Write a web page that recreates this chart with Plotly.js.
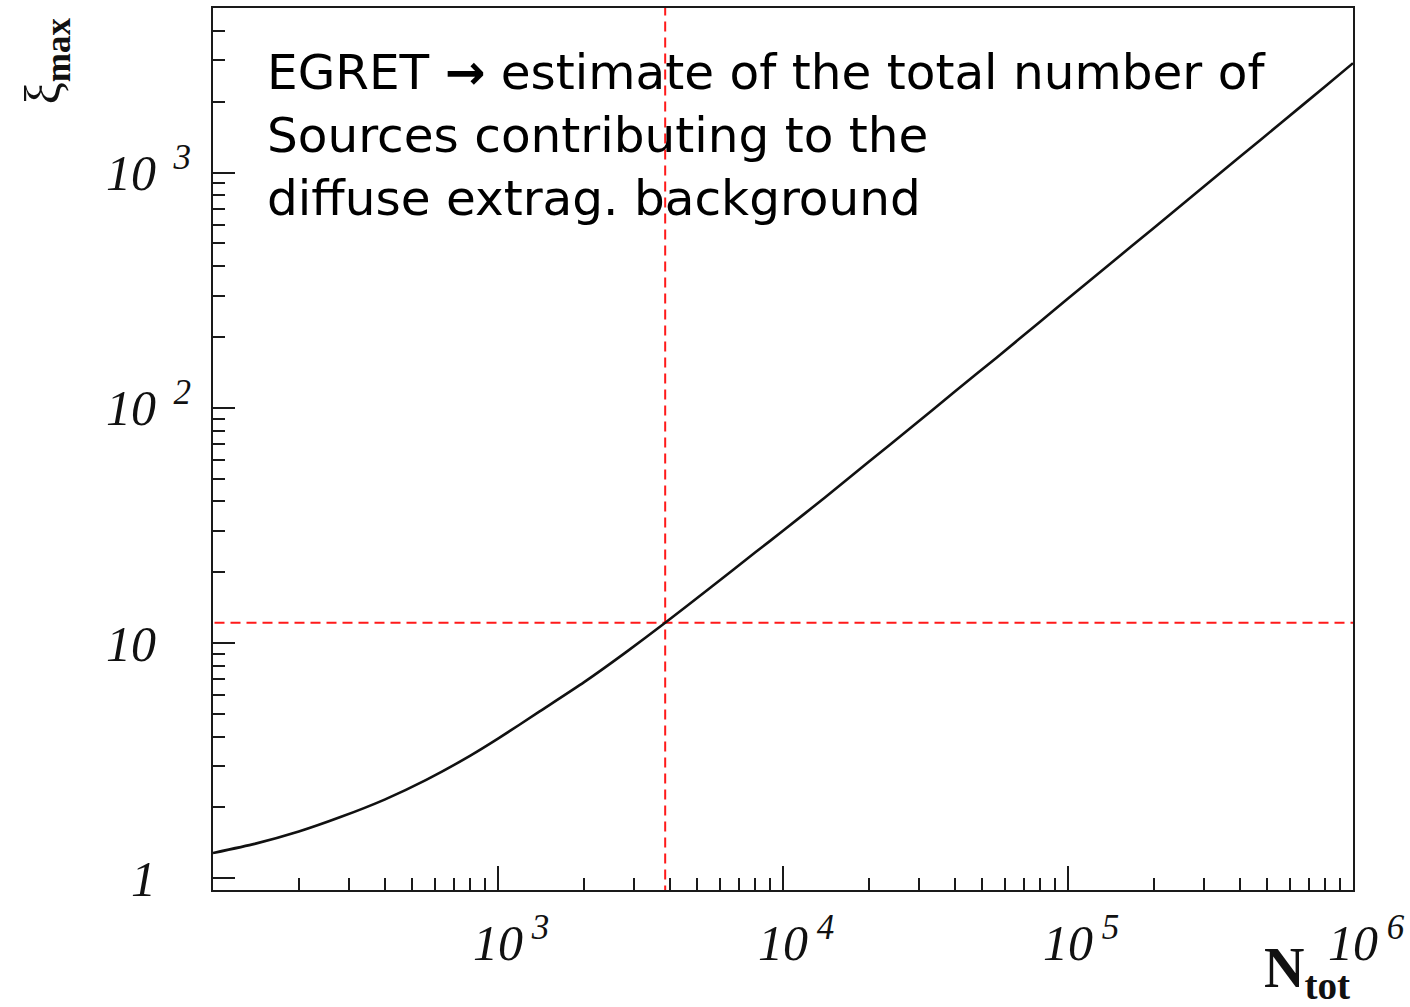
<!DOCTYPE html>
<html>
<head>
<meta charset="utf-8">
<script src="https://cdn.plot.ly/plotly-3.0.1.min.js"></script>
<style>
  html, body { margin: 0; padding: 0; background: #fff; }
  #chart { width: 1410px; height: 1007px; }
</style>
</head>
<body>
<div id="chart"></div>
<script>
// ---- data ----
const nTot = [100, 140, 200, 280, 400, 560, 800, 1000, 1400, 2000, 2800, 3860, 5500, 8000, 10000, 14000, 20000, 28000, 40000, 56000, 80000, 100000, 140000, 200000, 280000, 400000, 560000, 800000, 1000000];
const xiMax = [1.28, 1.40, 1.58, 1.82, 2.16, 2.62, 3.32, 3.92, 5.12, 6.8, 9.1, 12.2, 17, 24.3, 30, 41.5, 59, 82, 117, 163, 233, 292, 408, 582, 815, 1165, 1630, 2330, 2920];

// EGRET estimate marked by the dashed cross-hair
const crossN = 3860;
const crossXi = 12.2;

// axis ticks
const xTickVals = [1000, 10000, 100000, 1000000];
const xTickExp = ['3', '4', '5', '6'];
const yTickVals = [1, 10, 100, 1000];
const yTickBase = ['1', '10', '10', '10'];
const yTickExp = ['', '', '2', '3'];

const noteLines = ['EGRET <b>\u2192</b> estimate of the total number of', 'Sources contributing to the', 'diffuse extrag. background'];

// axis ranges (log10)
const xRangeLog = [2, 6];
const yRangeLog = [-0.05, 3.70];

// tick label text (exponent sits beside the base "10", base stays on the tick)
const NB = '\u00A0';
const xTickText = xTickExp.map(e => '<sup>' + NB + NB + NB + '</sup>10<sup>' + NB + e + '</sup>');
const yTickText = yTickBase.map((b, i) => b + '<sup>' + NB + NB + (yTickExp[i] ? yTickExp[i] : NB + NB) + '</sup>');

// minor ticks 2..9 per decade
function minorTicks(lo, hi) {
  const out = [];
  for (let e = Math.floor(lo); e <= Math.ceil(hi); e++) {
    for (let m = 2; m <= 9; m++) {
      const v = m * Math.pow(10, e);
      const l = Math.log10(v);
      if (l > lo && l < hi) out.push(v);
    }
  }
  return out;
}

const axisColor = '#1a1a1a';
const tickFont = { family: 'Liberation Serif, Times New Roman, serif', size: 50, color: '#111', style: 'italic' };

const yLo = Math.pow(10, yRangeLog[0] - 0.5);
const yHi = Math.pow(10, yRangeLog[1] + 0.5);
const xLo = Math.pow(10, xRangeLog[0] - 0.5);
const xHi = Math.pow(10, xRangeLog[1] + 0.5);

const dashStyle = { color: '#ff1a1a', width: 2, dash: '10px,6px' };

const traces = [
  {
    x: [xLo, xHi], y: [crossXi, crossXi],
    mode: 'lines', line: dashStyle,
    hoverinfo: 'skip', showlegend: false
  },
  {
    x: [crossN, crossN], y: [yLo, yHi],
    mode: 'lines', line: dashStyle,
    hoverinfo: 'skip', showlegend: false
  },
  {
    x: nTot, y: xiMax,
    mode: 'lines', line: { color: '#111', width: 2.6, shape: 'spline', smoothing: 0.5 },
    showlegend: false
  }
];

const layout = {
  width: 1410, height: 1007,
  margin: { l: 213, r: 57, t: 8, b: 117, pad: 0 },
  paper_bgcolor: '#fff', plot_bgcolor: '#fff',
  showlegend: false,
  xaxis: {
    type: 'log', range: xRangeLog,
    showline: true, linewidth: 2, linecolor: axisColor, mirror: true,
    showgrid: false, zeroline: false,
    tickmode: 'array', tickvals: xTickVals, ticktext: xTickText,
    ticks: 'inside', ticklen: 24, tickwidth: 2, tickcolor: axisColor,
    ticklabelstandoff: 8,
    tickfont: tickFont,
    minor: { tickmode: 'array', tickvals: minorTicks(xRangeLog[0], xRangeLog[1]), ticks: 'inside', ticklen: 12, tickwidth: 2, tickcolor: axisColor, showgrid: false }
  },
  yaxis: {
    type: 'log', range: yRangeLog,
    showline: true, linewidth: 2, linecolor: axisColor, mirror: true,
    showgrid: false, zeroline: false,
    tickmode: 'array', tickvals: yTickVals, ticktext: yTickText,
    ticks: 'inside', ticklen: 22, tickwidth: 2, tickcolor: axisColor,
    ticklabelstandoff: 10,
    tickfont: tickFont,
    minor: { tickmode: 'array', tickvals: minorTicks(yRangeLog[0], yRangeLog[1]), ticks: 'inside', ticklen: 12, tickwidth: 2, tickcolor: axisColor, showgrid: false }
  },
  annotations: [
    {
      xref: 'paper', yref: 'paper', x: 0.0456, y: 0.962,
      xanchor: 'left', yanchor: 'top', align: 'left', showarrow: false,
      text: noteLines.join('<br>'),
      font: { family: 'DejaVu Sans, sans-serif', size: 48.5, color: '#000' }
    },
    {
      xref: 'paper', yref: 'paper', x: 0.96, y: -0.093,
      xanchor: 'center', yanchor: 'middle', showarrow: false,
      text: '<b>N<sub>tot</sub></b>',
      font: { family: 'Liberation Serif, Times New Roman, serif', size: 56, color: '#111' }
    },
    {
      xref: 'paper', yref: 'paper', x: -0.146, y: 0.94,
      xanchor: 'center', yanchor: 'middle', showarrow: false, textangle: -90,
      text: '\u03BE<sub><b>max</b></sub>',
      font: { family: 'Liberation Serif, Times New Roman, serif', size: 50, color: '#111' }
    }
  ]
};

Plotly.newPlot('chart', traces, layout, { staticPlot: true, displayModeBar: false });
</script>
</body>
</html>
